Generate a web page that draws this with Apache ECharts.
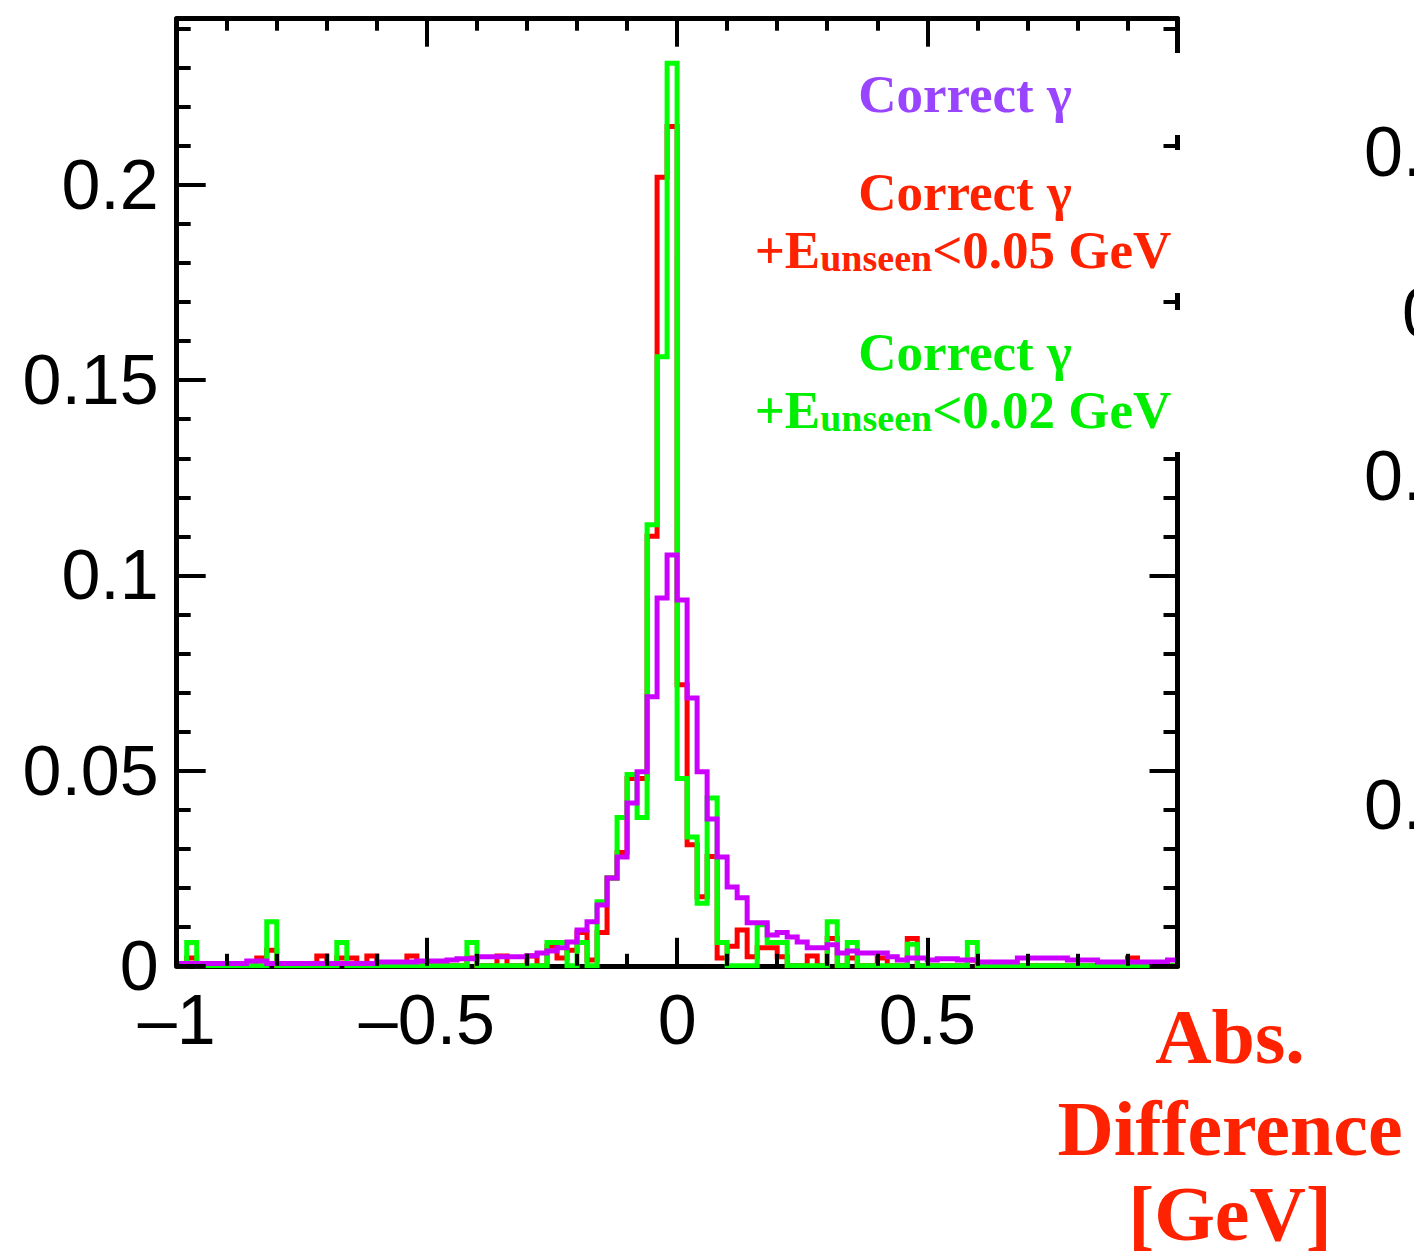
<!DOCTYPE html>
<html>
<head>
<meta charset="utf-8">
<script src="https://cdn.jsdelivr.net/npm/echarts@6/dist/echarts.min.js"></script>
<style>
html,body{margin:0;padding:0;background:#ffffff;}
#chart{width:1414px;height:1257px;}
</style>
</head>
<body>
<div id="chart"></div>
<script>
// ---- data (100 bins of width 0.02 from -1 to 1) ----
const binLow = -1;
const binWidth = 0.02;
const nBins = 100;

const redValues = [
  0, 0.002, 0, 0, 0, 0, 0, 0, 0.002, 0.004,
  0, 0, 0, 0, 0.0025, 0, 0.002, 0.002, 0, 0.0025,
  0, 0, 0, 0.0025, 0, 0, 0, 0, 0, 0.002,
  0, 0, 0.0025, 0, 0, 0.0025, 0, 0.005, 0.002, 0.004,
  0.0085, 0.0015, 0.0085, 0.0225, 0.029, 0.048, 0.048, 0.110, 0.202, 0.215,
  0.072, 0.031, 0.0177, 0.028, 0.002, 0.005, 0.0092, 0.0023, 0.0046, 0.0046,
  0.0023, 0, 0, 0.0025, 0, 0.007, 0, 0.002, 0, 0,
  0.002, 0, 0, 0.007, 0, 0, 0, 0, 0, 0.0015,
  0, 0, 0, 0, 0, 0, 0, 0, 0, 0,
  0, 0, 0, 0, 0, 0.002, 0, 0, 0, 0
];

const greenValues = [
  0, 0.006, 0, 0, 0, 0, 0, 0, 0, 0.0113,
  0, 0, 0, 0, 0, 0, 0.006, 0, 0, 0,
  0, 0, 0, 0, 0, 0, 0, 0, 0, 0.006,
  0, 0, 0, 0, 0, 0, 0, 0.006, 0.006, 0,
  0.006, 0, 0.0164, 0.0225, 0.038, 0.049, 0.038, 0.113, 0.156, 0.2312,
  0.048, 0.033, 0.016, 0.043, 0.006, 0, 0, 0, 0.0105, 0.006,
  0.006, 0, 0, 0, 0, 0.0113, 0, 0.006, 0, 0,
  0, 0, 0, 0.0055, 0, 0, 0, 0, 0, 0.006,
  0, 0, 0, 0, 0, 0, 0, 0, 0, 0,
  0, 0, 0, 0, 0, 0, 0, 0, 0, 0
];

const purpleValues = [
  0.0006, 0.0006, 0.0006, 0.0006, 0.0006, 0.0006, 0.0006, 0.0012, 0.0012, 0.0006,
  0.0006, 0.0006, 0.0006, 0.0006, 0.0006, 0.0006, 0.0006, 0.0006, 0.0006, 0.0006,
  0.001, 0.001, 0.001, 0.001, 0.0012, 0.0012, 0.0012, 0.0015, 0.0018, 0.0018,
  0.0023, 0.0023, 0.0023, 0.0023, 0.0023, 0.0026, 0.0033, 0.0038, 0.0046, 0.0061,
  0.0092, 0.0113, 0.0156, 0.0225, 0.0279, 0.0417, 0.0497, 0.0689, 0.0942, 0.1052,
  0.0937, 0.0686, 0.0497, 0.0376, 0.0279, 0.0202, 0.0174, 0.011, 0.011, 0.0079,
  0.0085, 0.0074, 0.0061, 0.0046, 0.0046, 0.0054, 0.0033, 0.0038, 0.0033, 0.0033,
  0.0033, 0.0023, 0.0015, 0.002, 0.002, 0.0015, 0.0018, 0.0018, 0.0015, 0.0015,
  0.001, 0.001, 0.001, 0.001, 0.002, 0.002, 0.002, 0.002, 0.002, 0.0015,
  0.0015, 0.0015, 0.001, 0.001, 0.001, 0.001, 0.001, 0.001, 0.001, 0.0015
];

const xTickLabels = {'-1': '\u20131', '-0.5': '\u20130.5', '0': '0', '0.5': '0.5'};
const yTickLabels = {'0': '0', '0.05': '0.05', '0.1': '0.1', '0.15': '0.15', '0.2': '0.2'};

const legendTexts = {
  purple: 'Correct \u03b3',
  red1: 'Correct \u03b3',
  red2: ['+E', 'unseen', '<0.05 GeV'],
  green1: 'Correct \u03b3',
  green2: ['+E', 'unseen', '<0.02 GeV']
};
const axisTitleLines = ['Abs.', 'Difference', '[GeV]'];
const sidePanelLabels = ['0.', '0', '0.', '0.'];

// ---- build histogram outlines from bin edges ----
const binEdges = [];
for (let i = 0; i <= nBins; i++) binEdges.push(Math.round((binLow + binWidth * i) * 1000) / 1000);
function histPoints(vals) {
  const pts = vals.map((v, i) => [binEdges[i], v]);
  pts.push([binEdges[nBins], vals[vals.length - 1]]);
  return pts;
}

const YMAX = 0.2426;
const SANS = '"Liberation Sans", Arial, Helvetica, sans-serif';
const SERIF = '"Liberation Serif", "Times New Roman", serif';
const TICK_FONT = 70;

function xAxisBase(pos) {
  return {
    type: 'value', position: pos, min: -1, max: 1, interval: 0.5,
    splitLine: {show: false}, minorSplitLine: {show: false}
  };
}
function yAxisBase(pos, interval) {
  return {
    type: 'value', position: pos, min: 0, max: YMAX, interval: interval,
    splitLine: {show: false}, minorSplitLine: {show: false}
  };
}
const tickStyle = {color: '#000', width: 4};
const lineStyleAxis = {color: '#000', width: 5};

const xAxes = [
  Object.assign(xAxisBase('bottom'), {
    z: 1,
    axisLine: {show: true, onZero: false, lineStyle: lineStyleAxis},
    axisTick: {show: false},
    axisLabel: {
      show: true, margin: 29, color: '#000', fontSize: TICK_FONT, fontFamily: SANS,
      lineHeight: 50, showMaxLabel: false,
      formatter: v => xTickLabels[String(+(+v).toFixed(3))] ?? ''
    }
  }),
  Object.assign(xAxisBase('bottom'), {
    z: 5,
    axisLine: {show: false, onZero: false},
    axisTick: {show: true, inside: true, length: 28, lineStyle: tickStyle},
    minorTick: {show: true, splitNumber: 5, length: 12, lineStyle: tickStyle},
    axisLabel: {show: false}
  }),
  Object.assign(xAxisBase('top'), {
    z: 5,
    axisLine: {show: true, onZero: false, lineStyle: lineStyleAxis},
    axisTick: {show: true, inside: true, length: 28, lineStyle: tickStyle},
    minorTick: {show: true, splitNumber: 5, length: 12, lineStyle: tickStyle},
    axisLabel: {show: false}
  })
];

const yAxes = [
  Object.assign(yAxisBase('left', 0.05), {
    z: 5,
    axisLine: {show: true, onZero: false, lineStyle: lineStyleAxis},
    axisTick: {show: true, inside: true, length: 29, lineStyle: tickStyle},
    axisLabel: {
      show: true, margin: 18, color: '#000', fontSize: TICK_FONT, fontFamily: SANS,
      lineHeight: 50, showMaxLabel: false,
      formatter: v => yTickLabels[String(+(+v).toFixed(4))] ?? ''
    }
  }),
  Object.assign(yAxisBase('left', 0.01), {
    z: 5,
    axisLine: {show: false, onZero: false},
    axisTick: {show: true, inside: true, length: 14, lineStyle: tickStyle},
    axisLabel: {show: false}
  }),
  Object.assign(yAxisBase('right', 0.05), {
    z: 5,
    axisLine: {show: true, onZero: false, lineStyle: lineStyleAxis},
    axisTick: {show: true, inside: true, length: 28, lineStyle: tickStyle},
    axisLabel: {show: false}
  }),
  Object.assign(yAxisBase('right', 0.01), {
    z: 5,
    axisLine: {show: false, onZero: false},
    axisTick: {show: true, inside: true, length: 14, lineStyle: tickStyle},
    axisLabel: {show: false}
  })
];

function histSeries(name, vals, color, z) {
  return {
    name: name, type: 'line', step: 'end', data: histPoints(vals),
    xAxisIndex: 0, yAxisIndex: 0, showSymbol: false, symbol: 'none',
    z: z, animation: false, silent: true,
    lineStyle: {color: color, width: 5, join: 'miter', cap: 'butt'}
  };
}

// legend boxes and texts
const PURPLE_TXT = '#9944ff', RED_TXT = '#ff2200', GREEN_TXT = '#00ee00';
function plainText(str, x, y, size, color, align) {
  return {
    type: 'text', x: x, y: y, z: 101, silent: true,
    style: {
      text: str, fill: color, fontSize: size, fontWeight: 'bold', fontFamily: SERIF,
      align: align || 'center', verticalAlign: 'middle',
      textAlign: align || 'center', textVerticalAlign: 'middle'
    }
  };
}
function subText(parts, x, y, color) {
  return {
    type: 'text', x: x, y: y, z: 101, silent: true,
    style: {
      text: '{b|' + parts[0] + '}{s|' + parts[1] + '}{b|' + parts[2] + '}',
      align: 'center', verticalAlign: 'middle', textAlign: 'center', textVerticalAlign: 'middle',
      rich: {
        b: {fill: color, fontSize: 53, fontWeight: 'bold', fontFamily: SERIF, verticalAlign: 'bottom'},
        s: {fill: color, fontSize: 38, fontWeight: 'bold', fontFamily: SERIF, verticalAlign: 'bottom'}
      }
    }
  };
}
function whiteBox(y0, y1) {
  return {type: 'rect', z: 100, silent: true, shape: {x: 745, y: y0, width: 438, height: y1 - y0}, style: {fill: '#ffffff'}};
}

const graphics = [
  whiteBox(53, 135),
  whiteBox(150, 293),
  whiteBox(310, 452),
  plainText(legendTexts.purple, 965, 94, 53, PURPLE_TXT),
  plainText(legendTexts.red1, 965, 192, 53, RED_TXT),
  subText(legendTexts.red2, 963, 250, RED_TXT),
  plainText(legendTexts.green1, 965, 352, 53, GREEN_TXT),
  subText(legendTexts.green2, 963, 410, GREEN_TXT),
  plainText(axisTitleLines[0], 1230, 1036, 78, RED_TXT),
  plainText(axisTitleLines[1], 1230, 1128, 78, RED_TXT),
  plainText(axisTitleLines[2], 1230, 1213, 78, RED_TXT)
];
const sidePos = [[1364, 152], [1402, 313], [1364, 476], [1364, 805]];
sidePanelLabels.forEach((t, i) => {
  graphics.push({
    type: 'text', x: sidePos[i][0], y: sidePos[i][1], z: 101, silent: true,
    style: {text: t, fill: '#000', fontSize: TICK_FONT, fontFamily: SANS,
      align: 'left', verticalAlign: 'middle', textAlign: 'left', textVerticalAlign: 'middle'}
  });
});

const chart = echarts.init(document.getElementById('chart'), null, {renderer: 'svg', width: 1414, height: 1257});
chart.setOption({
  animation: false,
  backgroundColor: '#ffffff',
  grid: {left: 176.7, top: 18.7, right: 236.5, bottom: 291.2, containLabel: false, outerBoundsMode: 'none'},
  xAxis: xAxes,
  yAxis: yAxes,
  series: [
    histSeries('Correct γ +Eunseen<0.05 GeV', redValues, '#ff0000', 2),
    histSeries('Correct γ +Eunseen<0.02 GeV', greenValues, '#00ff00', 3),
    histSeries('Correct γ', purpleValues, '#cc00ff', 4)
  ],
  graphic: graphics
});
</script>
</body>
</html>
